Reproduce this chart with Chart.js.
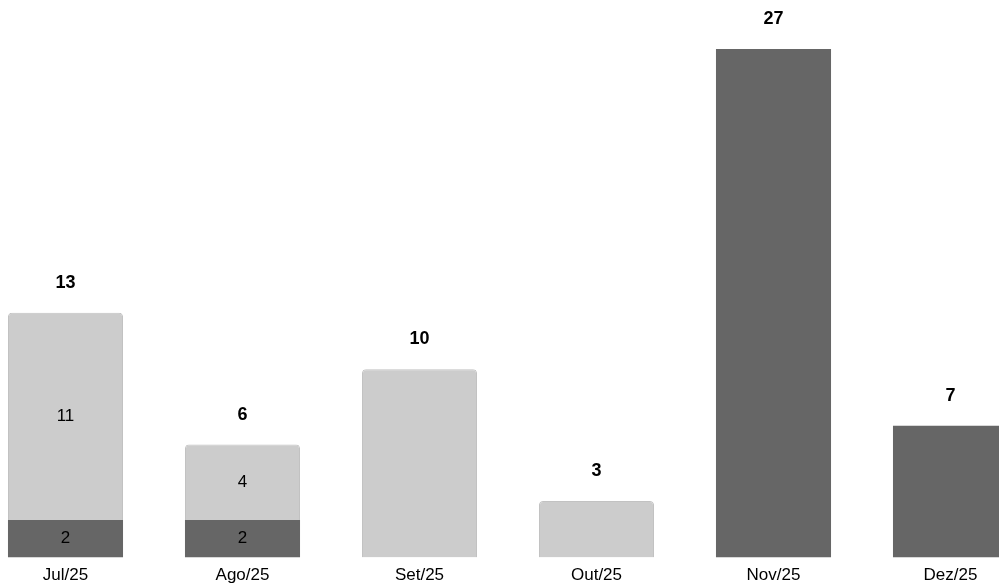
<!DOCTYPE html>
<html>
<head>
<meta charset="utf-8">
<script src="https://cdn.jsdelivr.net/npm/chart.js@4.4.1/dist/chart.umd.min.js"></script>
<style>
    html, body { margin: 0; padding: 0; background: #fff; overflow: hidden; }
    #wrap { position: absolute; left: -23px; top: 0; width: 1062px; height: 594px; }
</style>
</head>
<body>
<div id="wrap"><canvas id="chamadosChart"></canvas></div>
<script>
        const meses = ["Jul/25", "Ago/25", "Set/25", "Out/25", "Nov/25", "Dez/25"];
        const fechados = [2, 2, null, null, 27, 7];
        const abertos = [11, 4, 10, 3, null, null];

        const fontFamily = "'Liberation Sans', Arial, sans-serif";

        // Segment values inside the bar (only when the bar has both parts) and the total on top
        const labelsPlugin = {
            id: "barLabels",
            afterDatasetsDraw(chart) {
                const ctx = chart.ctx;
                const yScale = chart.scales.y;
                ctx.save();
                ctx.textAlign = "center";
                ctx.textBaseline = "middle";
                ctx.fillStyle = "#000";

                meses.forEach((m, i) => {
                    const parts = chart.data.datasets.map(ds => ds.data[i]).filter(v => v);
                    const total = parts.reduce((a, b) => a + b, 0);

                    if (parts.length > 1) {
                        ctx.font = "17px " + fontFamily;
                        chart.data.datasets.forEach((ds, d) => {
                            const bar = chart.getDatasetMeta(d).data[i];
                            if (!ds.data[i]) return;
                            ctx.fillText(ds.data[i], bar.x, (bar.y + bar.base) / 2);
                        });
                    }

                    const x = chart.getDatasetMeta(0).data[i].x;
                    ctx.font = "bold 18px " + fontFamily;
                    ctx.fillText(total, x, yScale.getPixelForValue(total) - 30);
                });
                ctx.restore();
            }
        };

        new Chart(document.getElementById("chamadosChart").getContext("2d"), {
            type: "bar",
            data: {
                labels: meses,
                datasets: [{
                    label: "Fechados",
                    data: fechados,
                    backgroundColor: "#666666",
                    borderWidth: 0,
                    barPercentage: 0.65,
                    categoryPercentage: 1
                }, {
                    label: "Abertos",
                    data: abertos,
                    backgroundColor: "#cccccc",
                    borderColor: "#c2c2c2",
                    borderWidth: 1,
                    borderRadius: 4,
                    barPercentage: 0.65,
                    categoryPercentage: 1
                }]
            },
            options: {
                responsive: true,
                maintainAspectRatio: false,
                animation: false,
                layout: { padding: 0 },
                plugins: {
                    legend: { display: false },
                    tooltip: { enabled: false }
                },
                scales: {
                    x: {
                        stacked: true,
                        grid: { display: false, drawTicks: false },
                        border: { display: false },
                        ticks: {
                            color: "#000",
                            padding: 8,
                            font: { family: fontFamily, size: 17 }
                        }
                    },
                    y: {
                        stacked: true,
                        display: false,
                        min: 0,
                        max: 29.6
                    }
                }
            },
            plugins: [labelsPlugin]
        });
</script>
</body>
</html>
